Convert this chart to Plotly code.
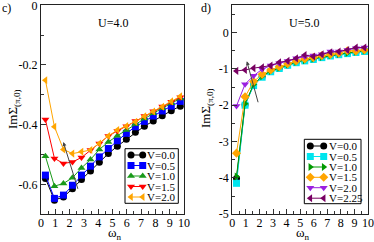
import plotly.graph_objects as go

W, H = 374, 242
FONT = "Liberation Serif"

# Matsubara frequencies
omega = [0.31, 0.94, 1.57, 2.20, 2.83, 3.46, 4.08, 4.71, 5.34, 5.97, 6.60, 7.23, 7.85, 8.48, 9.11, 9.74]

# Panel c) U=4.0
c_labels = ["V=0.0", "V=0.5", "V=1.0", "V=1.5", "V=2.0"]
c_v00 = [-0.580, -0.653, -0.642, -0.615, -0.584, -0.555, -0.526, -0.497, -0.472, -0.449, -0.425, -0.405, -0.388, -0.370, -0.353, -0.338]
c_v05 = [-0.569, -0.647, -0.636, -0.603, -0.569, -0.539, -0.508, -0.480, -0.454, -0.429, -0.407, -0.389, -0.371, -0.354, -0.338, -0.322]
c_v10 = [-0.506, -0.606, -0.597, -0.578, -0.545, -0.517, -0.483, -0.458, -0.437, -0.418, -0.398, -0.379, -0.362, -0.345, -0.328, -0.312]
c_v15 = [-0.383, -0.513, -0.530, -0.525, -0.510, -0.485, -0.463, -0.438, -0.421, -0.405, -0.388, -0.371, -0.355, -0.339, -0.323, -0.308]
c_v20 = [-0.251, -0.407, -0.483, -0.497, -0.491, -0.485, -0.463, -0.438, -0.418, -0.405, -0.390, -0.372, -0.356, -0.340, -0.322, -0.305]
c_series = [c_v00, c_v05, c_v10, c_v15, c_v20]
c_colors = ["#000000", "#0000ff", "#1a9a1a", "#ff0000", "#ffa500"]
c_symbols = ["circle", "square", "triangle-up", "triangle-down", "triangle-left"]

# Panel d) U=5.0
d_labels = ["V=0.0", "V=0.5", "V=1.0", "V=1.5", "V=2.0", "V=2.25"]
d_v00 = [-4.02, -1.99, -1.44, -1.21, -1.07, -0.98, -0.89, -0.82, -0.77, -0.73, -0.68, -0.635, -0.60, -0.57, -0.54, -0.51]
d_v05 = [-4.15, -2.00, -1.46, -1.23, -1.08, -0.99, -0.90, -0.83, -0.78, -0.74, -0.69, -0.645, -0.61, -0.58, -0.55, -0.52]
d_v10 = [-3.96, -1.96, -1.43, -1.20, -1.06, -0.97, -0.88, -0.81, -0.76, -0.72, -0.67, -0.625, -0.59, -0.56, -0.53, -0.50]
d_v15 = [-3.32, -1.77, -1.35, -1.15, -1.03, -0.94, -0.86, -0.78, -0.73, -0.69, -0.635, -0.60, -0.57, -0.50, -0.51, -0.48]
d_v20 = [-2.02, -1.42, -1.19, -1.01, -0.91, -0.845, -0.78, -0.71, -0.66, -0.635, -0.60, -0.525, -0.525, -0.48, -0.43, -0.415]
d_v225 = [-1.056, -1.03, -0.98, -0.955, -0.91, -0.82, -0.78, -0.71, -0.62, -0.66, -0.60, -0.54, -0.525, -0.48, -0.415, -0.415]
d_series = [d_v00, d_v05, d_v10, d_v15, d_v20, d_v225]
d_colors = ["#000000", "#00e5ee", "#009a00", "#ffa500", "#9b20e0", "#780062"]
d_symbols = ["circle", "square", "triangle-right", "diamond", "triangle-down", "triangle-left"]

x_ticks = [0, 1, 2, 3, 4, 5, 6, 7, 8, 9, 10]
c_yticks = [0, -0.2, -0.4, -0.6]
c_yticklabels = ["0", "-0.2", "-0.4", "-0.6"]
d_yticks = [0, -1, -2, -3, -4, -5]
d_yticklabels = ["0", "-1", "-2", "-3", "-4", "-5"]

# Layout in pixels
L1, R1 = 41, 184
L2, R2 = 232.3, 368
TOP, BOT = 5.3, 214.2


def px(x):
    return x / W


def py(y):
    return 1 - y / H


fig = go.Figure()

for ys, col, sym, lab in zip(c_series, c_colors, c_symbols, c_labels):
    fig.add_trace(go.Scatter(x=omega, y=ys, mode="lines+markers", name=lab,
                             line=dict(color=col, width=1),
                             marker=dict(color=col, symbol=sym, size=7, line=dict(width=0)),
                             xaxis="x", yaxis="y", showlegend=False, cliponaxis=False))
for ys, col, sym, lab in zip(d_series, d_colors, d_symbols, d_labels):
    fig.add_trace(go.Scatter(x=omega, y=ys, mode="lines+markers", name=lab,
                             line=dict(color=col, width=1),
                             marker=dict(color=col, symbol=sym, size=7, line=dict(width=0)),
                             xaxis="x2", yaxis="y2", showlegend=False, cliponaxis=False))

annotations = []
shapes = []


def legend(labels, colors, symbols, box, rows, mx1, mx2, tx):
    x0, y0, x1, y1 = box
    shapes.append(dict(type="rect", xref="paper", yref="paper",
                       x0=px(x0), x1=px(x1), y0=py(y1), y1=py(y0),
                       line=dict(color="#000000", width=1), fillcolor="rgba(0,0,0,0)", layer="below"))
    for lab, col, sym, ry in zip(labels, colors, symbols, rows):
        fig.add_trace(go.Scatter(x=[mx1, mx2], y=[ry, ry], mode="lines+markers",
                                 line=dict(color=col, width=1),
                                 marker=dict(color=col, symbol=sym, size=7, line=dict(width=0)),
                                 xaxis="x3", yaxis="y3", showlegend=False, hoverinfo="skip"))
        annotations.append(dict(x=px(tx), y=py(ry), xref="paper", yref="paper", text=lab,
                                showarrow=False, xanchor="left", yanchor="middle",
                                font=dict(family=FONT, size=11, color="black")))


legend(c_labels, c_colors, c_symbols, (125, 148.7, 178.3, 203.3),
       [155, 165.5, 176, 186.5, 197], 131, 142.7, 145)
legend(d_labels, d_colors, d_symbols, (304.3, 139.3, 361, 203.7),
       [146, 156.5, 167, 177.3, 187.7, 198.2], 310.3, 323.7, 326.5)

txt = dict(family=FONT, size=12, color="black")
ttl = dict(family=FONT, size=13, color="black")


def note(x, y, text, font, angle=0):
    return dict(x=px(x), y=py(y), xref="paper", yref="paper", text=text, showarrow=False,
                xanchor="center", yanchor="middle", textangle=angle, font=font)


annotations += [
    note(7, 8, "c)", txt),
    note(206, 8, "d)", txt),
    note(113, 23, "U=4.0", txt),
    note(303.5, 23, "U=5.0", txt),
    note(14, 109, "ImΣ<sub>(π,0)</sub>", ttl, -90),
    note(207, 109, "ImΣ<sub>(π,0)</sub>", ttl, -90),
    note(115, 233, "ω<sub>n</sub>", ttl),
    note(303, 233, "ω<sub>n</sub>", ttl),
    dict(x=1.56, y=-0.458, xref="x", yref="y", ax=2.61, ay=-0.62, axref="x", ayref="y",
         showarrow=True, arrowhead=2, arrowsize=0.8, arrowwidth=1, arrowcolor="#444444", text=""),
    dict(x=1.07, y=-0.79, xref="x2", yref="y2", ax=1.93, ay=-1.96, axref="x2", ayref="y2",
         showarrow=True, arrowhead=2, arrowsize=0.8, arrowwidth=1, arrowcolor="#444444", text=""),
]

axis_common = dict(showline=True, linecolor="#222222", linewidth=1.3, mirror=True,
                   ticks="inside", ticklen=5, tickwidth=1, tickcolor="#333333",
                   showgrid=False, zeroline=False, automargin=False, ticklabeloverflow="allow",
                   tickfont=dict(family=FONT, size=12, color="black"))

x_minor = [i * 0.5 for i in range(21)]
c_minor = [-i * 0.1 for i in range(8)]
d_minor = [0.5 - i * 0.5 for i in range(12)]

fig.update_layout(
    template="none",
    width=W, height=H, margin=dict(l=0, r=0, t=0, b=0),
    paper_bgcolor="white", plot_bgcolor="rgba(0,0,0,0)", showlegend=False,
    xaxis=dict(domain=[px(L1), px(R1)], range=[0, 10], tickmode="array", tickvals=x_ticks, anchor="y",
               ticklabelstandoff=-3,
               minor=dict(ticks="inside", tickmode="array", tickvals=x_minor, ticklen=3, tickcolor="#333333"),
               **axis_common),
    yaxis=dict(domain=[py(BOT), py(TOP)], range=[-0.7, 0], tickmode="array", tickvals=c_yticks,
               ticktext=c_yticklabels, anchor="x",
               minor=dict(ticks="inside", tickmode="array", tickvals=c_minor, ticklen=3, tickcolor="#333333"),
               **axis_common),
    xaxis2=dict(domain=[px(L2), px(R2)], range=[0, 10], tickmode="array", tickvals=x_ticks, anchor="y2",
                ticklabelstandoff=-3,
                minor=dict(ticks="inside", tickmode="array", tickvals=x_minor, ticklen=3, tickcolor="#333333"),
                **axis_common),
    yaxis2=dict(domain=[py(BOT), py(TOP)], range=[-5, 0.75], tickmode="array", tickvals=d_yticks,
                ticktext=d_yticklabels, anchor="x2",
                minor=dict(ticks="inside", tickmode="array", tickvals=d_minor, ticklen=3, tickcolor="#333333"),
                **axis_common),
    xaxis3=dict(domain=[0, 1], range=[0, W], visible=False, anchor="y3", fixedrange=True),
    yaxis3=dict(domain=[0, 1], range=[H, 0], visible=False, anchor="x3", fixedrange=True),
    annotations=annotations, shapes=shapes,
)

fig.write_html("out.html", config={"displayModeBar": False},
               post_script="document.body.style.margin='0';")
